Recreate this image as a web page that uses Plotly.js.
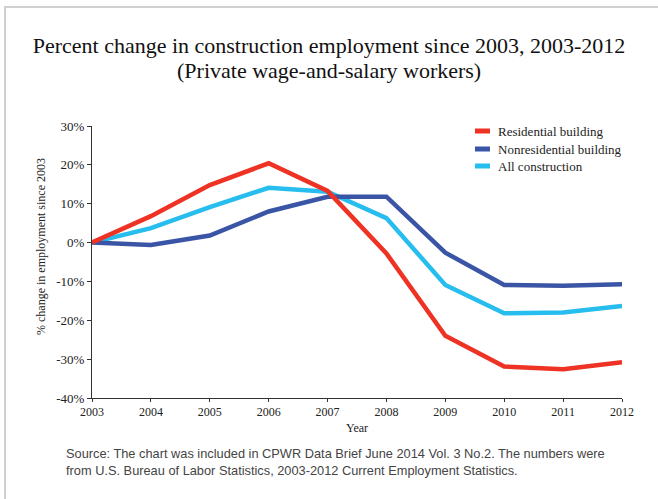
<!DOCTYPE html>
<html>
<head>
<meta charset="utf-8">
<script src="https://cdn.plot.ly/plotly-3.0.1.min.js"></script>
<style>
html,body{margin:0;padding:0;background:#fff;}
#wrap{position:relative;width:658px;height:499px;overflow:hidden;}
#frame{position:absolute;left:4px;top:6px;width:700px;height:600px;border-left:2px solid #d0d0d0;border-top:2px solid #d0d0d0;pointer-events:none;}
#chart{position:absolute;left:0;top:0;width:658px;height:499px;}
</style>
</head>
<body>
<div id="wrap">
<div id="chart"></div>
<div id="frame"></div>
</div>
<script>
const years = [2003, 2004, 2005, 2006, 2007, 2008, 2009, 2010, 2011, 2012];
const residential = [0, 6.8, 14.8, 20.4, 13.3, -2.8, -24.0, -31.9, -32.6, -30.8];
const nonresidential = [0, -0.6, 1.8, 8.0, 11.8, 11.8, -2.6, -10.9, -11.1, -10.7];
const allConstruction = [0, 3.7, 9.1, 14.1, 13.1, 6.3, -10.9, -18.2, -18.0, -16.3];
const yTicks = [30, 20, 10, 0, -10, -20, -30, -40];
const yTickText = yTicks.map(v => v + '%');
const seriesNames = ['Residential building', 'Nonresidential building', 'All construction'];
const seriesColors = ['#EE3224', '#3B55A6', '#27BDEE'];

const serif = '"Liberation Serif", "Times New Roman", serif';
const sans = '"Liberation Sans Narrow", "Liberation Sans", Arial, sans-serif';
const traces = [residential, nonresidential, allConstruction].map((vals, i) => ({
  x: years, y: vals, type: 'scatter', mode: 'lines', name: seriesNames[i],
  line: {color: seriesColors[i], width: 4.5}
}));
const ordered = [traces[2], traces[1], traces[0]];

// helpers: pixel -> paper coords (plot area 92..622 x, 126..398 y)
const px = x => (x - 92) / 530;
const py = y => (398 - y) / 272;
const legendY = [131, 149, 166];
const shapes = [];
const annotations = [];
seriesNames.forEach((name, i) => {
  shapes.push({type: 'rect', xref: 'paper', yref: 'paper',
    x0: px(475), x1: px(490), y0: py(legendY[i] + 2.5), y1: py(legendY[i] - 2.5),
    fillcolor: seriesColors[i], line: {width: 0}});
  annotations.push({text: name, xref: 'paper', yref: 'paper', x: px(496), y: py(legendY[i]),
    xanchor: 'left', yanchor: 'middle', showarrow: false,
    font: {family: serif, size: 13, color: '#222'}});
});
annotations.push({
  text: '(Private wage-and-salary workers)',
  xref: 'paper', yref: 'paper', x: px(329), y: py(70),
  xanchor: 'center', yanchor: 'middle', showarrow: false,
  font: {family: serif, size: 22, color: '#111'}
});
annotations.push({
  text: '% change in employment since 2003',
  xref: 'paper', yref: 'paper', x: px(41), y: py(247), textangle: -90,
  xanchor: 'center', yanchor: 'middle', showarrow: false,
  font: {family: serif, size: 12, color: '#222'}
});
annotations.push({
  text: 'Source: The chart was included in CPWR Data Brief June 2014 Vol. 3 No.2. The numbers were<br>from U.S. Bureau of Labor Statistics, 2003-2012 Current Employment Statistics.',
  xref: 'paper', yref: 'paper', x: px(64), y: py(444),
  xanchor: 'left', yanchor: 'top', align: 'left', showarrow: false,
  font: {family: sans, size: 12.8, color: '#444'}
});

const layout = {
  width: 658, height: 499,
  margin: {l: 92, r: 36, t: 126, b: 101},
  paper_bgcolor: '#fff', plot_bgcolor: '#fff',
  font: {family: serif, color: '#222', size: 12},
  title: {
    text: 'Percent change in construction employment since 2003, 2003-2012',
    font: {family: serif, size: 22, color: '#111'},
    x: 0.5, xref: 'container', xanchor: 'center',
    y: 1 - 45/499, yref: 'container', yanchor: 'middle'
  },
  xaxis: {
    range: [2003, 2012], tickvals: years, ticktext: years.map(String),
    showgrid: false, zeroline: false, showline: true, linecolor: '#333', linewidth: 1,
    ticks: 'outside', ticklen: 3, tickcolor: '#333',
    tickfont: {family: serif, size: 12, color: '#222'},
    title: {text: 'Year', font: {family: serif, size: 12, color: '#222'}, standoff: 5}
  },
  yaxis: {
    range: [-40, 30], tickvals: yTicks, ticktext: yTickText,
    showgrid: false, zeroline: false, showline: true, linecolor: '#333', linewidth: 1,
    ticks: 'outside', ticklen: 4, tickcolor: '#333',
    tickfont: {family: serif, size: 13, color: '#222'}
  },
  showlegend: false,
  shapes: shapes,
  annotations: annotations
};

Plotly.newPlot('chart', ordered, layout, {displayModeBar: false, staticPlot: true});
</script>
</body>
</html>
